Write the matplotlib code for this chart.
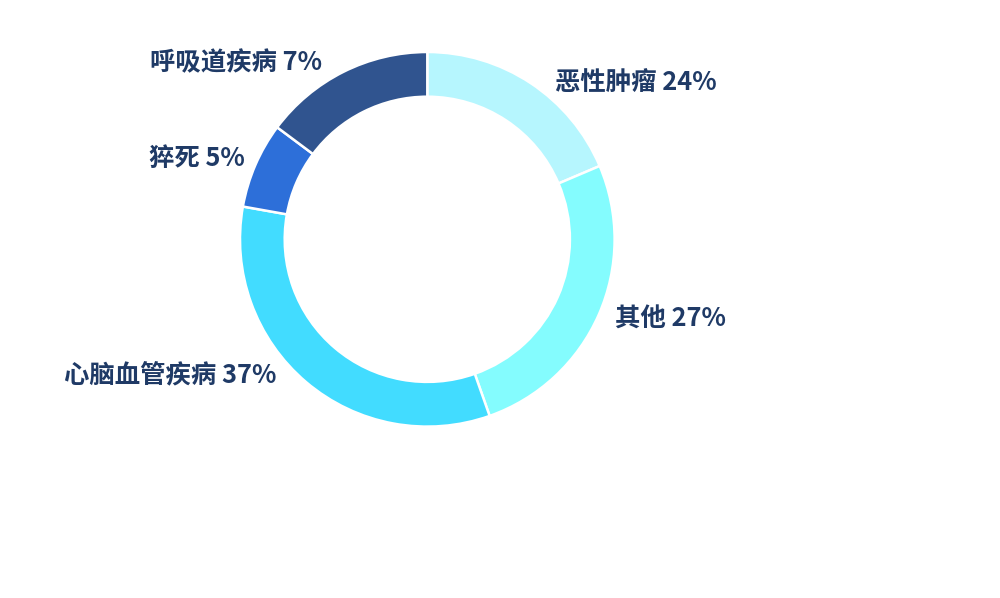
import matplotlib
matplotlib.use("Agg")
import matplotlib.pyplot as plt

# Data (slice shares as drawn; label text as shown)
categories = ["恶性肿瘤", "其他", "心脑血管疾病", "猝死", "呼吸道疾病"]
values = [18.6, 26.0, 33.2, 7.4, 14.8]
label_pcts = ["24%", "27%", "37%", "5%", "7%"]
colors = ["#b6f6fe", "#84fcfe", "#42dcff", "#2d6fd9", "#30548f"]

# Layout (pixel positions of labels, alignment)
label_pos = [(555, 82), (615, 319), (277, 375), (245, 158), (322, 63)]
label_ha = ["left", "left", "right", "right", "right"]

plt.rcParams['font.family'] = ['Noto Sans CJK SC', 'DejaVu Sans']

W, H = 1000, 598
fig = plt.figure(figsize=(W / 100, H / 100), dpi=100)
ax = fig.add_axes([0, 0, 1, 1])
ax.set_xlim(0, W)
ax.set_ylim(0, H)
ax.set_aspect('equal')
ax.axis('off')

cx, cy, R, r_in = 427.3, H - 239.3, 187.3, 142.6
ax.pie(values, colors=colors, startangle=90, counterclock=False,
       center=(cx, cy), radius=R, frame=True,
       wedgeprops=dict(width=R - r_in, edgecolor='white', linewidth=1.8))
ax.set_xlim(0, W)
ax.set_ylim(0, H)
ax.axis('off')

for cat, pct, (px, py), ha in zip(categories, label_pcts, label_pos, label_ha):
    ax.text(px, H - py, f"{cat} {pct}", ha=ha, va='center',
            fontsize=18.3, fontweight='bold', color='#1f3a66')

fig.savefig("out.png", dpi=100, facecolor='white')
